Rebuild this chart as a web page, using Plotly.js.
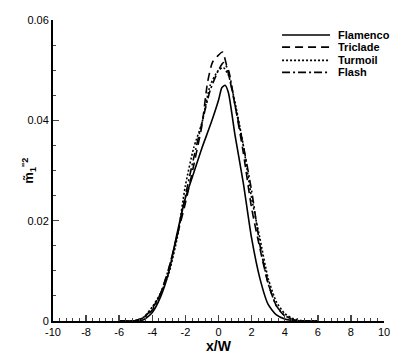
<!DOCTYPE html>
<html>
<head>
<meta charset="utf-8">
<script src="https://cdn.plot.ly/plotly-3.0.1.min.js"></script>
<style>
  html, body { margin: 0; padding: 0; background: #fff; }
  #chart { width: 407px; height: 362px; }
</style>
</head>
<body>
<div id="chart"></div>
<script>
const seriesNames = ["Flamenco", "Triclade", "Turmoil", "Flash"];

const flamencoX = [-6, -5, -4.5, -4, -3.5, -3, -2.5, -2, -1.5, -1, -0.5, 0, 0.2, 0.4, 0.6, 1, 1.5, 2, 2.5, 3, 3.5, 4, 4.5, 5, 6];
const flamencoY = [0, 0, 0.0003, 0.0017, 0.0048, 0.0098, 0.0175, 0.0245, 0.0295, 0.0345, 0.039, 0.044, 0.0465, 0.047, 0.0455, 0.037, 0.0275, 0.0165, 0.0085, 0.0033, 0.0012, 0.0004, 0.0001, 0, 0];

const tricladeX = [-6, -5, -4.5, -4, -3.5, -3, -2.5, -2, -1.5, -1, -0.66, -0.36, 0, 0.24, 0.66, 1, 1.5, 2, 2.5, 3, 3.5, 4, 4.5, 5, 6];
const tricladeY = [0, 0.0001, 0.0008, 0.0025, 0.0055, 0.0105, 0.017, 0.0235, 0.031, 0.039, 0.0476, 0.0516, 0.053, 0.0536, 0.0484, 0.043, 0.0335, 0.0225, 0.0145, 0.0075, 0.003, 0.001, 0.0003, 0, 0];

const turmoilX = [-6, -5, -4.5, -4, -3.5, -3, -2.5, -2, -1.5, -1, -0.5, 0, 0.3, 0.6, 1, 1.5, 2, 2.5, 3, 3.5, 4, 4.5, 5, 5.5, 6];
const turmoilY = [0, 0.0001, 0.0008, 0.0028, 0.0055, 0.0095, 0.0165, 0.027, 0.0345, 0.0395, 0.047, 0.050, 0.0505, 0.049, 0.0435, 0.035, 0.0245, 0.0165, 0.0085, 0.0038, 0.0015, 0.0005, 0.0001, 0, 0];

const flashX = [-6, -5, -4.5, -4, -3.5, -3, -2.5, -2, -1.5, -1, -0.5, 0, 0.3, 0.6, 1, 1.5, 2, 2.5, 3, 3.5, 4, 4.5, 5, 6];
const flashY = [0, 0.0001, 0.0007, 0.0022, 0.0055, 0.0105, 0.017, 0.025, 0.0325, 0.0395, 0.046, 0.050, 0.0515, 0.050, 0.043, 0.035, 0.026, 0.0152, 0.0075, 0.003, 0.0011, 0.0003, 0, 0];

const xTickVals = [-10, -8, -6, -4, -2, 0, 2, 4, 6, 8, 10];
const xTickText = ["-10", "-8", "-6", "-4", "-2", "0", "2", "4", "6", "8", "10"];
const yTickVals = [0, 0.02, 0.04, 0.06];
const yTickText = ["0", "0.02", "0.04", "0.06"];

const dashes = ["solid", "8px,5px", "2px,2px", "8px,3px,2px,3px"];
const xs = [flamencoX, tricladeX, turmoilX, flashX];
const ys = [flamencoY, tricladeY, turmoilY, flashY];

const traces = seriesNames.map((name, i) => ({
  x: xs[i],
  y: ys[i],
  name: name,
  type: "scatter",
  mode: "lines",
  line: { color: "#000", width: 1.6, dash: dashes[i], shape: "spline", smoothing: 0.6 },
  showlegend: false
}));

// hand-drawn legend, like the original figure
const legendRows = [0.950, 0.910, 0.866, 0.826];
const shapes = legendRows.map((yy, i) => ({
  type: "line", xref: "paper", yref: "paper",
  x0: 0.692, x1: 0.837, y0: yy, y1: yy,
  line: { color: "#000", width: 1.6, dash: dashes[i] }
}));
const annotations = legendRows.map((yy, i) => ({
  xref: "paper", yref: "paper", x: 0.855, y: yy,
  xanchor: "left", yanchor: "middle", showarrow: false,
  text: "<b>" + seriesNames[i] + "</b>",
  font: { size: 11, color: "#000" }
}));

// y title as a rotated annotation so it sits where the original has it
annotations.push({
  xref: "paper", yref: "paper", x: -0.075, y: 0.5,
  xanchor: "center", yanchor: "middle", showarrow: false,
  textangle: -90,
  text: "<b>m̃<sub>1</sub><sup>''2</sup></b>",
  font: { size: 13, color: "#000" }
});

const layout = {
  width: 407,
  height: 362,
  margin: { t: 20, l: 53, r: 23, b: 41 },
  font: { family: "Liberation Sans, Arial, sans-serif", size: 11, color: "#000" },
  paper_bgcolor: "#fff",
  plot_bgcolor: "#fff",
  xaxis: {
    range: [-10, 10],
    tickmode: "array",
    tickvals: xTickVals,
    ticktext: xTickText,
    ticks: "inside",
    ticklen: 6,
    tickwidth: 1.5,
    showline: true,
    linewidth: 2,
    linecolor: "#000",
    showgrid: false,
    zeroline: false,
    minor: { dtick: 0.4, tick0: -10, ticks: "inside", ticklen: 3, tickwidth: 1, showgrid: false },
    title: { text: "<b>x/W</b>", font: { size: 14 }, standoff: 2 }
  },
  yaxis: {
    range: [0, 0.06],
    tickmode: "array",
    tickvals: yTickVals,
    ticktext: yTickText,
    ticks: "inside",
    ticklen: 6,
    tickwidth: 1.5,
    showline: true,
    linewidth: 2,
    linecolor: "#000",
    showgrid: false,
    zeroline: false,
    minor: { dtick: 0.005, tick0: 0, ticks: "inside", ticklen: 3, tickwidth: 1, showgrid: false }
  },
  shapes: shapes,
  annotations: annotations,
  showlegend: false
};

Plotly.newPlot("chart", traces, layout, { staticPlot: true, displayModeBar: false });
</script>
</body>
</html>
